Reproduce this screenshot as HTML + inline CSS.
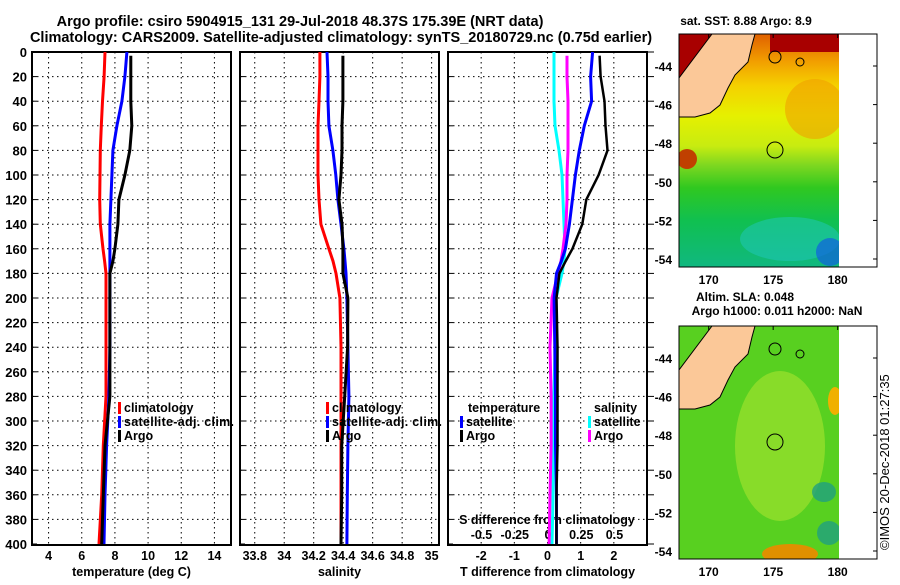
<!DOCTYPE html>
<html><head><meta charset="utf-8"><style>
body{margin:0;background:#fff;width:900px;height:580px;overflow:hidden}
svg{font-family:"Liberation Sans",sans-serif;font-weight:bold}
</style></head><body>
<svg id="c" width="900" height="580" viewBox="0 0 900 580" xmlns="http://www.w3.org/2000/svg">
<text x="300" y="26" font-size="14.5" text-anchor="middle">Argo profile: csiro 5904915_131 29-Jul-2018 48.37S 175.39E (NRT data)</text>
<text x="341" y="42" font-size="14.5" text-anchor="middle">Climatology: CARS2009. Satellite-adjusted climatology: synTS_20180729.nc (0.75d earlier)</text>
<g id="maps"></g>
<g id="panels"></g>
<text transform="translate(889,550) rotate(-90)" font-size="13" font-weight="normal">©IMOS 20-Dec-2018 01:27:35</text>
</svg>
<script>
const depths=[0,20,40,60,80,100,120,140,160,170,180,200,240,280,320,360,400];
const argoDepths=[3,20,40,60,80,100,120,140,160,170,180,200,240,280,320,360,400];
const climT=[7.4,7.35,7.25,7.18,7.12,7.1,7.08,7.12,7.28,7.38,7.46,7.46,7.46,7.46,7.3,7.2,7.04];
const satT=[8.72,8.6,8.42,8.12,7.88,7.82,7.76,7.7,7.7,7.7,7.7,7.7,7.7,7.64,7.5,7.4,7.34];
const argoT=[8.96,8.96,8.96,9.02,8.9,8.6,8.24,8.18,8.0,7.88,7.7,7.7,7.7,7.7,7.4,7.3,7.2];
const climS=[34.242,34.242,34.236,34.229,34.229,34.229,34.236,34.249,34.303,34.331,34.351,34.378,34.385,34.385,34.385,34.385,34.385];
const satS=[34.29,34.297,34.297,34.303,34.33,34.35,34.364,34.385,34.405,34.412,34.419,34.425,34.432,34.439,34.432,34.428,34.425];
const argoS=[34.398,34.398,34.398,34.392,34.392,34.385,34.371,34.392,34.398,34.398,34.398,34.432,34.43,34.41,34.39,34.39,34.385];
const dTsat=[1.36,1.3,1.33,1.11,0.96,0.84,0.75,0.66,0.54,0.42,0.27,0.2,0.22,0.24,0.24,0.27,0.27];
const dTargo=[1.57,1.6,1.72,1.75,1.81,1.54,1.17,1.05,0.75,0.55,0.36,0.27,0.3,0.3,0.3,0.27,0.27];
const dSsat=[0.045,0.045,0.045,0.053,0.083,0.105,0.113,0.12,0.128,0.12,0.105,0.06,0.053,0.045,0.038,0.038,0.03];
const dSargo=[0.143,0.143,0.15,0.15,0.15,0.143,0.143,0.135,0.113,0.098,0.075,0.03,0.015,0.023,0.023,0.015,0.008];
const depthTicks=[0,20,40,60,80,100,120,140,160,180,200,220,240,260,280,300,320,340,360,380,400];
const tTicks=[4,6,8,10,12,14];
const sTicks=[33.8,34,34.2,34.4,34.6,34.8,35];
const dTicks=[-2,-1,0,1,2];
const dSTicks=[-0.5,-0.25,0,0.25,0.5];
const dSTickLabels=["-0.5","-0.25","0","0.25","0.5"];
const latTicks=[-44,-46,-48,-50,-52,-54];
const lonTicks=[170,175,180];

const NS="http://www.w3.org/2000/svg";
const P=document.getElementById('panels');
const M=document.getElementById('maps');
function mk(tag,attrs,parent){const e=document.createElementNS(NS,tag);for(const k in attrs)e.setAttribute(k,attrs[k]);parent.appendChild(e);return e;}
const yD=d=>52+(d/400)*492;
const TOP=52,BOT=545;
const panels=[
 {x0:32,x1:231,min:3,max:15,ticks:tTicks,label:'temperature (deg C)',name:'temperature'},
 {x0:240,x1:439,min:33.7,max:35.05,ticks:sTicks,label:'salinity',name:'salinity'},
 {x0:448,x1:647,min:-3,max:3,ticks:dTicks,label:'T difference from climatology',name:'t-difference'}
];
const ax=(p,v)=>p.x0+(v-p.min)/(p.max-p.min)*(p.x1-p.x0);
const xDS=v=>548+v*133;

panels.forEach((p,i)=>{
  const g=mk('g',{},P);
  
  
  depthTicks.forEach(d=>{
    if(d>0&&d<400){const l=mk('line',{x1:p.x0,x2:p.x1,y1:yD(d),y2:yD(d),stroke:'#000','stroke-width':1,'stroke-dasharray':'1.5,3.5'},g);
    
    }
    const t=mk('line',{x1:p.x0,x2:p.x0+5,y1:yD(d),y2:yD(d),stroke:'#000'},g);
    
    
    if(i===2){const t2=mk('line',{x1:p.x1,x2:p.x1+7,y1:yD(d),y2:yD(d),stroke:'#000'},g);
    
    }
  });
  p.ticks.forEach(v=>{
    const x=ax(p,v);
    const l=mk('line',{x1:x,x2:x,y1:TOP,y2:BOT,stroke:'#000','stroke-width':1,'stroke-dasharray':'1.5,3.5'},g);
    
    
    const t=mk('text',{x:x,y:560,'font-size':12.5,'text-anchor':'middle'},g);
    t.textContent=String(v);
    
    
  });
  const r=mk('rect',{x:p.x0,y:TOP,width:p.x1-p.x0,height:BOT-TOP,fill:'none',stroke:'#000','stroke-width':2},g);
  
  
  const xl=mk('text',{x:(p.x0+p.x1)/2,y:576,'font-size':12.5,'text-anchor':'middle'},g);
  xl.textContent=p.label;
  
  
});
depthTicks.forEach(d=>{
  const t=mk('text',{x:27,y:yD(d)+5,'font-size':13,'text-anchor':'end'},P);
  t.textContent=String(d);
  
  
});
const sl=mk('text',{x:547,y:524,'font-size':12.5,'text-anchor':'middle'},P);
sl.textContent='S difference from climatology';


dSTicks.forEach((v,k)=>{
  const t=mk('text',{x:xDS(v),y:539,'font-size':12.5,'text-anchor':'middle'},P);
  t.textContent=dSTickLabels[k];
  
  
});

function series(vals,ds,xf,color,name,w){
  const pts=vals.map((v,k)=>xf(v).toFixed(1)+','+yD(ds[k]).toFixed(1)).join(' ');
  const pl=mk('polyline',{points:pts,fill:'none',stroke:color,'stroke-width':w||3},P);
  
  
}
series(climT,depths,v=>ax(panels[0],v),'#f00','temp-climatology-line');
series(satT,depths,v=>ax(panels[0],v),'#00f','temp-satellite-line');
series(argoT,argoDepths,v=>ax(panels[0],v),'#000','temp-argo-line');
series(climS,depths,v=>ax(panels[1],v),'#f00','sal-climatology-line');
series(satS,depths,v=>ax(panels[1],v),'#00f','sal-satellite-line');
series(argoS,argoDepths,v=>ax(panels[1],v),'#000','sal-argo-line');
series(dSsat,depths,xDS,'#0ff','s-diff-satellite-line');
series(dSargo,argoDepths,xDS,'#f0f','s-diff-argo-line');
series(dTsat,depths,v=>ax(panels[2],v),'#00f','t-diff-satellite-line');
series(dTargo,argoDepths,v=>ax(panels[2],v),'#000','t-diff-argo-line',2.5);

function legend(x,y,color,label,name){
  const b=mk('rect',{x:x,y:y-10,width:3,height:12,fill:color},P);
  
  
  const t=mk('text',{x:x+6,y:y,'font-size':12.5,textLength:label.length>12?110:null},P);
  if(label.length<=12)t.removeAttribute('textLength');
  t.textContent=label;
  
  
}
[0,1].forEach(i=>{
  const x=i?326:118;
  legend(x,412,'#f00','climatology','legend-climatology');
  legend(x,426,'#00f','satellite-adj. clim.','legend-satellite-adj');
  legend(x,440,'#000','Argo','legend-argo');
});
const lt=mk('text',{x:468,y:412,'font-size':12.5},P);lt.textContent='temperature';


legend(460,426,'#00f','satellite','legend-t-satellite');
legend(460,440,'#000','Argo','legend-t-argo');
const ls=mk('text',{x:594,y:412,'font-size':12.5},P);ls.textContent='salinity';


legend(588,426,'#0ff','satellite','legend-s-satellite');
legend(588,440,'#f0f','Argo','legend-s-argo');

function map(oy,titles,kind){
  const g=mk('g',{},M);
  
  
  titles.forEach((t,k)=>{const e=mk('text',{x:t[1],y:t[2],'font-size':12,'text-anchor':'middle'},g);e.textContent=t[0];
  
  });
  const id='cl'+kind;
  const cp=mk('clipPath',{id:id},g);mk('rect',{x:679,y:oy,width:160,height:233},cp);
  const d=mk('g',{'clip-path':'url(#'+id+')'},g);
  if(kind==='sst'){
    const gr=mk('linearGradient',{id:'sg',x1:0,y1:0,x2:0,y2:1},g);
    [[0,'#e06000'],[0.12,'#f2a000'],[0.22,'#f5d000'],[0.35,'#e6f000'],[0.48,'#c8ec10'],[0.56,'#80d820'],[0.66,'#30c820'],[0.8,'#10c050'],[1,'#10b880']].forEach(s=>mk('stop',{offset:s[0],'stop-color':s[1]},gr));
    mk('rect',{x:679,y:oy,width:160,height:233,fill:'url(#sg)'},d);
    mk('rect',{x:770,y:oy,width:69,height:18,fill:'#a80000'},d);
    mk('polygon',{points:`679,${oy} 712,${oy} 679,${oy+44}`,fill:'#a80000'},d);
    mk('ellipse',{cx:815,cy:oy+75,rx:30,ry:30,fill:'#f0a000',opacity:0.6},d);
    mk('ellipse',{cx:790,cy:oy+205,rx:50,ry:22,fill:'#20c8c0',opacity:0.5},d);
    mk('ellipse',{cx:830,cy:oy+218,rx:14,ry:14,fill:'#1060e0',opacity:0.7},d);
    mk('ellipse',{cx:687,cy:oy+125,rx:10,ry:10,fill:'#c04000'},d);
  } else {
    mk('rect',{x:679,y:oy,width:160,height:233,fill:'#58d020'},d);
    mk('ellipse',{cx:780,cy:oy+120,rx:45,ry:75,fill:'#a8e430',opacity:0.6},d);
    mk('ellipse',{cx:790,cy:oy+228,rx:28,ry:10,fill:'#e09000'},d);
    mk('ellipse',{cx:835,cy:oy+75,rx:7,ry:14,fill:'#f0b000'},d);
    mk('ellipse',{cx:824,cy:oy+166,rx:12,ry:10,fill:'#20a080',opacity:0.8},d);
    mk('ellipse',{cx:829,cy:oy+207,rx:12,ry:12,fill:'#20a080',opacity:0.8},d);
  }
  const land=mk('polygon',{points:[[712,0],[755,0],[752,11],[748,28],[735,41],[728,54],[720,71],[710,79],[695,83],[679,83],[679,44]].map(p=>p[0]+','+(p[1]+oy)).join(' '),fill:'#fbc898',stroke:'#000','stroke-width':1},d);
  
  
  [[775,oy+116,8],[775,oy+23,6],[800,oy+28,4]].forEach(c=>{const e=mk('circle',{cx:c[0],cy:c[1],r:c[2],fill:'none',stroke:'#000'},d);
  
  });
  const fr=mk('rect',{x:679,y:oy,width:198,height:233,fill:'none',stroke:'#000'},g);
  
  
  latTicks.forEach(la=>{const y=oy+32+(-44-la)*19.3;
    const t=mk('text',{x:672,y:y+5,'font-size':12,'text-anchor':'end'},g);t.textContent=String(la);
    
    
    mk('line',{x1:873,x2:877,y1:y,y2:y,stroke:'#000'},g);});
  lonTicks.forEach(lo=>{const x=679+(lo-167.7)*12.9;
    const t=mk('text',{x:x,y:oy+250,'font-size':12,'text-anchor':'middle'},g);t.textContent=String(lo);
    
    
    mk('line',{x1:x,x2:x,y1:oy,y2:oy+4,stroke:'#000'},g);});
}
map(34,[['sat. SST: 8.88 Argo: 8.9',746,25]],'sst');
map(326,[['Altim. SLA: 0.048',745,301],['Argo h1000: 0.011 h2000: NaN',777,315]],'sla');
</script>
</body></html>
